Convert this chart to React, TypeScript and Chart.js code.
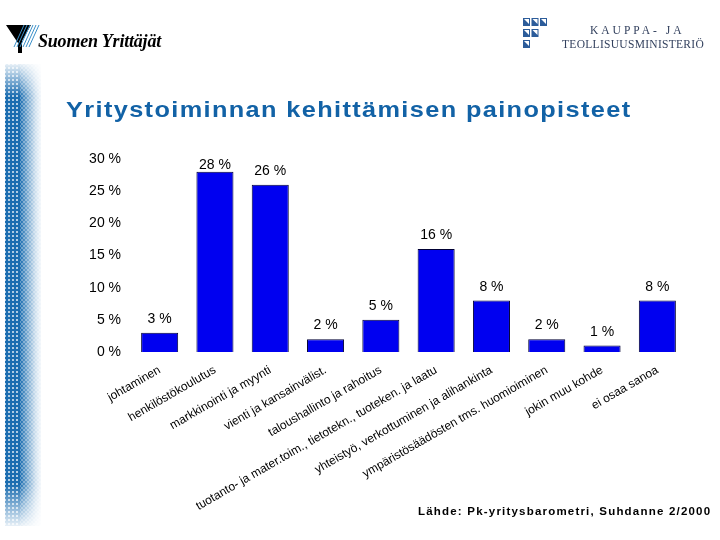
import React, { useEffect, useRef } from "react";
import { Chart, registerables } from "chart.js";

Chart.register(...registerables);

const categories: string[] = [
  "johtaminen",
  "henkilöstökoulutus",
  "markkinointi ja myynti",
  "vienti ja kansainvälist.",
  "taloushallinto ja rahoitus",
  "tuotanto- ja mater.toim., tietotekn., tuoteken. ja laatu",
  "yhteistyö, verkottuminen ja alihankinta",
  "ympäristösäädösten tms. huomioiminen",
  "jokin muu kohde",
  "ei osaa sanoa",
];
const values: number[] = [3, 28, 26, 2, 5, 16, 8, 2, 1, 8];
const yMin = 0;
const yMax = 30;
const yStep = 5;

const titleText = "Yritystoiminnan kehittämisen painopisteet";
const sourceText = "Lähde: Pk-yritysbarometri, Suhdanne 2/2000";

const FONT = "'Liberation Sans', Arial, Helvetica, sans-serif";

const valueLabelPlugin = {
  id: "valueLabels",
  afterDatasetsDraw(chart: any) {
    const ctx = chart.ctx;
    const meta = chart.getDatasetMeta(0);
    const data = chart.data.datasets[0].data as number[];
    ctx.save();
    ctx.font = `14px ${FONT}`;
    ctx.fillStyle = "#000";
    ctx.textAlign = "center";
    ctx.textBaseline = "middle";
    meta.data.forEach((bar: any, i: number) => {
      const y = Math.max(bar.y - 13.5, chart.chartArea.top + 6);
      ctx.fillText(`${data[i]} %`, bar.x, y);
    });
    ctx.restore();
  },
};

function ChartCanvas() {
  const ref = useRef<HTMLCanvasElement | null>(null);
  useEffect(() => {
    if (!ref.current) return;
    const chart = new Chart(ref.current, {
      type: "bar",
      data: {
        labels: categories,
        datasets: [
          {
            data: values,
            backgroundColor: "#0000f0",
            borderColor: "#000033",
            borderWidth: 1,
            barPercentage: 0.67,
            categoryPercentage: 1,
          },
        ],
      },
      options: {
        responsive: false,
        animation: false,
        events: [],
        layout: { padding: { left: 0, top: 159, right: 35, bottom: 0 } },
        plugins: {
          legend: { display: false },
          tooltip: { enabled: false },
        },
        scales: {
          x: {
            grid: { display: false, drawTicks: false },
            border: { display: false },
            ticks: {
              autoSkip: false,
              maxRotation: 30,
              minRotation: 30,
              padding: 11,
              color: "#000",
              font: { family: FONT, size: 12 },
            },
            afterFit: (s: any) => {
              s.height = 188;
            },
          },
          y: {
            min: yMin,
            max: yMax,
            grid: { display: false, drawTicks: false },
            border: { display: false },
            ticks: {
              stepSize: yStep,
              padding: 11,
              color: "#000",
              font: { family: FONT, size: 14 },
              callback: (v: any) => `${v} %`,
            },
            afterFit: (s: any) => {
              s.width = 132;
            },
          },
        },
      } as any,
      plugins: [valueLabelPlugin],
    });
    return () => chart.destroy();
  }, []);
  return (
    <canvas
      ref={ref}
      width={720}
      height={540}
      style={{ position: "absolute", left: 0, top: 0, width: 720, height: 540 }}
    />
  );
}

function LeftStripe() {
  const blueDots =
    "radial-gradient(circle at center, #1b6db0 0, #1b6db0 1.3px, rgba(27,109,176,0) 1.8px)";
  const whiteDots =
    "radial-gradient(circle at center, #ffffff 0, #ffffff 0.5px, rgba(255,255,255,0) 1.1px)";
  const vMask =
    "linear-gradient(to bottom, rgba(0,0,0,0.1) 0%, #000 7%, #000 91%, rgba(0,0,0,0.1) 100%)";
  return (
    <div
      style={{
        position: "absolute",
        left: 5,
        top: 64,
        width: 36,
        height: 462,
        WebkitMaskImage: vMask,
        maskImage: vMask,
      } as any}
    >
      <div
        style={{
          position: "absolute",
          left: 0,
          top: 0,
          width: 15,
          height: "100%",
          backgroundColor: "#1b6db0",
          backgroundImage: `${whiteDots}`,
          backgroundSize: "4px 4px",
          backgroundPosition: "2px 2px",
        }}
      />
      <div
        style={{
          position: "absolute",
          left: 15,
          top: 0,
          width: 21,
          height: "100%",
          backgroundImage: `${blueDots}, ${blueDots}`,
          backgroundSize: "4px 4px, 4px 4px",
          backgroundPosition: "0 0, 2px 2px",
          WebkitMaskImage:
            "linear-gradient(to right, #000 0%, rgba(0,0,0,0.6) 35%, rgba(0,0,0,0.2) 75%, rgba(0,0,0,0.05) 100%)",
          maskImage:
            "linear-gradient(to right, #000 0%, rgba(0,0,0,0.6) 35%, rgba(0,0,0,0.2) 75%, rgba(0,0,0,0.05) 100%)",
        } as any}
      />
    </div>
  );
}

function LeftLogo() {
  return (
    <div style={{ position: "absolute", left: 0, top: 14, width: 180, height: 46 }}>
      <svg width={44} height={46} style={{ position: "absolute", left: 0, top: 0 }}>
        <polygon points="6,11 31,11 22,27 22,39 18,39 18,29" fill="#000" />
        {[0, 1, 2, 3, 4, 5].map((i) => (
          <line
            key={i}
            x1={24 + i * 3}
            y1={11}
            x2={14 + i * 3}
            y2={33}
            stroke="#3a8fc8"
            strokeWidth={1}
          />
        ))}
      </svg>
      <div
        style={{
          position: "absolute",
          left: 38,
          top: 17,
          fontFamily: "'Liberation Serif', 'Times New Roman', serif",
          fontStyle: "italic",
          fontWeight: "bold",
          fontSize: 18,
          lineHeight: "20px",
          color: "#000",
          whiteSpace: "nowrap",
          letterSpacing: "-0.2px",
        }}
      >
        Suomen Yrittäjät
      </div>
    </div>
  );
}

function RightLogo() {
  const cells: [number, number][] = [
    [0, 0],
    [1, 0],
    [2, 0],
    [0, 1],
    [1, 1],
    [0, 2],
  ];
  return (
    <div style={{ position: "absolute", left: 520, top: 14, width: 200, height: 44 }}>
      <svg width={30} height={40} style={{ position: "absolute", left: 0, top: 0 }}>
        {cells.map(([c, r], i) => (
          <g key={i}>
            <rect x={3 + c * 8.5} y={4 + r * 11} width={7} height={8} fill="#2c5c9a" />
            <polygon
              points={`${4 + c * 8.5},${5 + r * 11} ${9 + c * 8.5},${5 + r * 11} ${9 + c * 8.5},${10 + r * 11}`}
              fill="#ffffff"
            />
          </g>
        ))}
      </svg>
      <div
        style={{
          position: "absolute",
          left: 70,
          top: 9,
          fontFamily: "'Liberation Serif', 'Times New Roman', serif",
          fontSize: 11.5,
          lineHeight: "14px",
          color: "#33415e",
          whiteSpace: "nowrap",
          letterSpacing: "3px",
        }}
      >
        KAUPPA- JA
      </div>
      <div
        style={{
          position: "absolute",
          left: 42,
          top: 23,
          fontFamily: "'Liberation Serif', 'Times New Roman', serif",
          fontSize: 11.5,
          lineHeight: "14px",
          color: "#33415e",
          whiteSpace: "nowrap",
          letterSpacing: "0.3px",
        }}
      >
        TEOLLISUUSMINISTERIÖ
      </div>
    </div>
  );
}

export default function App() {
  return (
    <div
      style={{
        position: "fixed",
        left: 0,
        top: 0,
        width: 720,
        height: 540,
        background: "#fff",
        overflow: "hidden",
      }}
    >
      <ChartCanvas />
      <LeftStripe />
      <LeftLogo />
      <RightLogo />
      <div
        style={{
          position: "absolute",
          left: 66,
          top: 97,
          fontFamily: FONT,
          fontWeight: "bold",
          fontSize: 22,
          lineHeight: "26px",
          color: "#1262a6",
          whiteSpace: "nowrap",
          letterSpacing: "1.2px",
          transform: "scaleX(1.15)",
          transformOrigin: "left center",
        }}
      >
        {titleText}
      </div>
      <div
        style={{
          position: "absolute",
          left: 418,
          top: 503,
          fontFamily: FONT,
          fontWeight: "bold",
          fontSize: 11.5,
          lineHeight: "16px",
          color: "#000",
          whiteSpace: "nowrap",
          letterSpacing: "1.2px",
        }}
      >
        {sourceText}
      </div>
    </div>
  );
}
